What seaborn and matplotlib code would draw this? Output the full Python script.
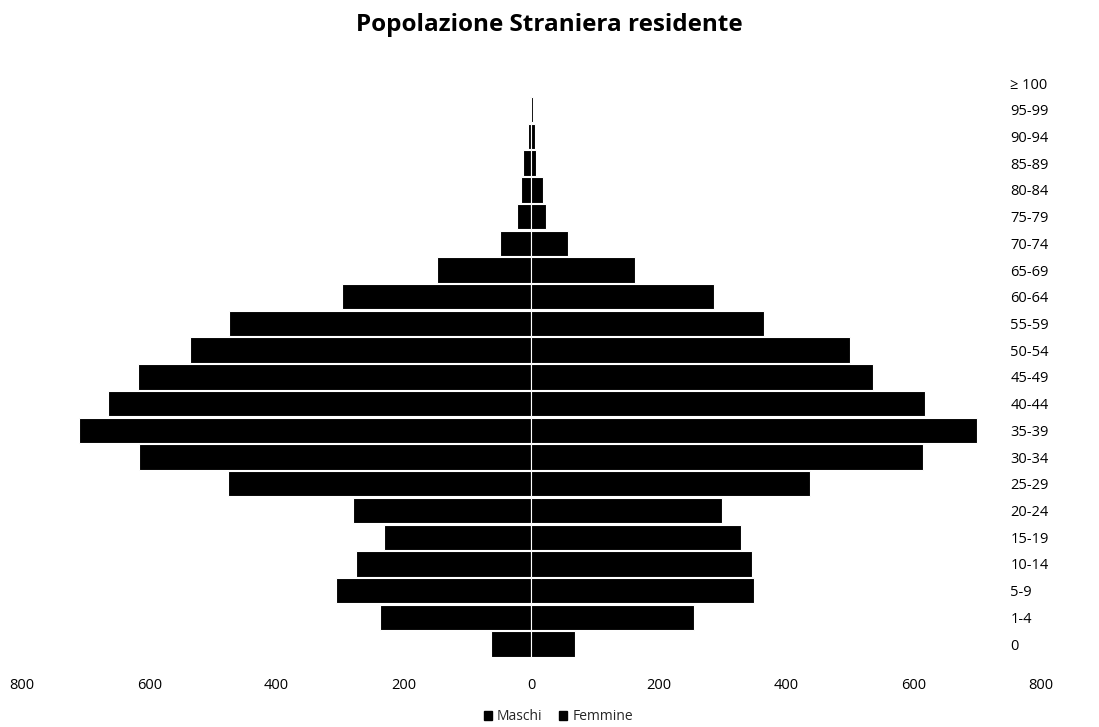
import matplotlib
matplotlib.use("Agg")
import matplotlib.pyplot as plt
from matplotlib.patches import Patch
from matplotlib.ticker import FuncFormatter, FixedLocator
import seaborn as sns
import pandas as pd

# Foreign resident population by age group
age_groups = ['≥ 100', '95-99', '90-94', '85-89', '80-84', '75-79', '70-74',
              '65-69', '60-64', '55-59', '50-54', '45-49', '40-44', '35-39',
              '30-34', '25-29', '20-24', '15-19', '10-14', '5-9', '1-4', '0']
maschi = [0, 2, 5, 13, 16, 22, 50, 148, 298, 475, 536, 618, 665, 710,
          617, 477, 280, 231, 276, 307, 238, 63]
femmine = [0, 2, 6, 7, 18, 23, 57, 163, 287, 366, 500, 536, 618, 700,
           615, 437, 300, 330, 347, 350, 255, 68]
x_ticks = [-800, -600, -400, -200, 0, 200, 400, 600, 800]

sns.set_theme(style="white")
plt.rcParams['font.family'] = ['Open Sans', 'DejaVu Sans']

df = pd.DataFrame({
    'eta': age_groups * 2,
    'sesso': ['Maschi'] * len(age_groups) + ['Femmine'] * len(age_groups),
    'valore': [-v for v in maschi] + list(femmine),
})

fig = plt.figure(figsize=(10.99, 7.27), dpi=100)
ax = fig.add_axes([0.02, 0.0957, 0.927, 0.8085])

sns.barplot(data=df, x='valore', y='eta', hue='sesso', order=age_groups,
            hue_order=['Maschi', 'Femmine'], palette=['black', 'black'],
            dodge=False, orient='h', width=0.95, edgecolor='white',
            linewidth=0.8, legend=False, ax=ax)

ax.set_xlim(-800, 800)
ax.set_ylim(len(age_groups) - 0.5, -0.5)
ax.xaxis.set_major_locator(FixedLocator(x_ticks))
ax.xaxis.set_major_formatter(FuncFormatter(lambda v, p: f"{abs(int(v))}"))
ax.set_xlabel('')
ax.set_ylabel('')
for s in ax.spines.values():
    s.set_visible(False)

ax.yaxis.tick_right()
ax.tick_params(axis='y', length=0, pad=-22, labelsize=10.5, labelcolor='black')
ax.tick_params(axis='x', length=0, pad=15, labelsize=10.5, labelcolor='black')
for lbl in ax.get_yticklabels():
    lbl.set_horizontalalignment('left')

fig.suptitle('Popolazione Straniera residente', x=0.5, y=0.982,
             fontsize=17.5, fontweight='bold', color='black')

handles = [Patch(facecolor='black', edgecolor='black', label='Maschi'),
           Patch(facecolor='black', edgecolor='black', label='Femmine')]
fig.legend(handles=handles, loc='center', bbox_to_anchor=(0.508, 0.014),
           ncol=2, frameon=False, fontsize=10, handlelength=0.6,
           handleheight=0.6, handletextpad=0.35, columnspacing=1.2)

fig.savefig('out.png', dpi=100, facecolor='white')
